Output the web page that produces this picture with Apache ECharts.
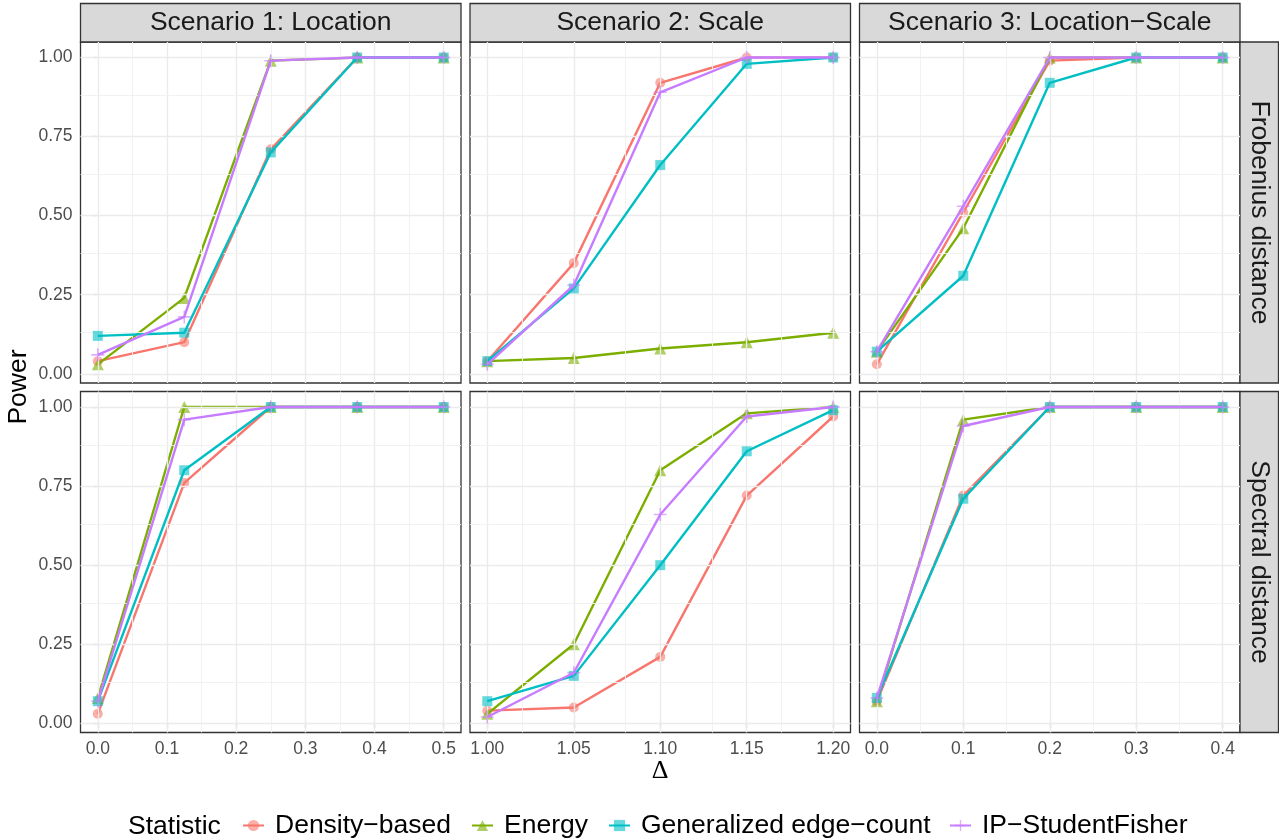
<!DOCTYPE html>
<html>
<head>
<meta charset="utf-8">
<script src="https://cdn.jsdelivr.net/npm/echarts@6/dist/echarts.min.js"></script>
<style>
  html, body { margin: 0; padding: 0; background: #fff; }
  #chart { width: 1279px; height: 839px; }
</style>
</head>
<body>
<div id="chart"></div>
<script>
// series names, facet labels
var statistics = ['Density\u2212based', 'Energy', 'Generalized edge\u2212count', 'IP\u2212StudentFisher'];
var scenarios = ['Scenario 1: Location', 'Scenario 2: Scale', 'Scenario 3: Location\u2212Scale'];
var distances = ['Frobenius distance', 'Spectral distance'];

// delta values per scenario
var deltaLocation = [0, 0.125, 0.25, 0.375, 0.5];
var deltaScale = [1.00, 1.05, 1.10, 1.15, 1.20];
var deltaLocScale = [0, 0.1, 0.2, 0.3, 0.4];

// power, one row per statistic (same order as statistics)
var frobeniusLocation = [
  [0.04, 0.10, 0.71, 1.00, 1.00],
  [0.03, 0.24, 0.99, 1.00, 1.00],
  [0.12, 0.13, 0.70, 1.00, 1.00],
  [0.06, 0.18, 0.99, 1.00, 1.00]
];
var frobeniusScale = [
  [0.04, 0.35, 0.92, 1.00, 1.00],
  [0.04, 0.05, 0.08, 0.10, 0.13],
  [0.04, 0.27, 0.66, 0.98, 1.00],
  [0.03, 0.28, 0.89, 1.00, 1.00]
];
var frobeniusLocScale = [
  [0.03, 0.51, 0.99, 1.00, 1.00],
  [0.07, 0.46, 1.00, 1.00, 1.00],
  [0.07, 0.31, 0.92, 1.00, 1.00],
  [0.07, 0.53, 1.00, 1.00, 1.00]
];
var spectralLocation = [
  [0.03, 0.76, 1.00, 1.00, 1.00],
  [0.08, 1.00, 1.00, 1.00, 1.00],
  [0.07, 0.80, 1.00, 1.00, 1.00],
  [0.07, 0.96, 1.00, 1.00, 1.00]
];
var spectralScale = [
  [0.04, 0.05, 0.21, 0.72, 0.97],
  [0.03, 0.25, 0.80, 0.98, 1.00],
  [0.07, 0.15, 0.50, 0.86, 0.99],
  [0.02, 0.16, 0.66, 0.97, 1.00]
];
var spectralLocScale = [
  [0.07, 0.72, 1.00, 1.00, 1.00],
  [0.07, 0.96, 1.00, 1.00, 1.00],
  [0.08, 0.71, 1.00, 1.00, 1.00],
  [0.08, 0.94, 1.00, 1.00, 1.00]
];

// tick labels
var yTicks = [0, 0.25, 0.5, 0.75, 1];
var yMinor = [0.125, 0.375, 0.625, 0.875];
var xTicksLocation = [0, 0.1, 0.2, 0.3, 0.4, 0.5];
var xTicksScale = [1.00, 1.05, 1.10, 1.15, 1.20];
var xTicksLocScale = [0, 0.1, 0.2, 0.3, 0.4];

var chart = echarts.init(document.getElementById('chart'));

var font = '"Liberation Sans", Arial, sans-serif';
var colors = ['#F8766D', '#7CAE00', '#00BFC4', '#C77CFF'];
var plusPath = 'path://M0,4.4 L10,4.4 L10,5.6 L0,5.6 Z M4.4,0 L5.6,0 L5.6,10 L4.4,10 Z';
var symbols = ['circle', 'triangle', 'rect', plusPath];
var symbolSizes = [10, 12, 10, 13];

var panelLeft = [80.5, 470, 859.5];
var panelWidth = 380.5;
var panelTop = [42, 391.5];
var panelHeight = 341;

var xDeltas = [deltaLocation, deltaScale, deltaLocScale];
var xTicks = [xTicksLocation, xTicksScale, xTicksLocScale];
var xRange = [[-0.025, 0.525], [0.99, 1.21], [-0.02, 0.42]];
var xDigits = [1, 2, 1];
var panelData = [
  [frobeniusLocation, frobeniusScale, frobeniusLocScale],
  [spectralLocation, spectralScale, spectralLocScale]
];

function midpoints(arr) {
  var out = [];
  for (var i = 0; i < arr.length - 1; i++) out.push((arr[i] + arr[i + 1]) / 2);
  return out;
}

var grids = [], xAxes = [], yAxes = [], series = [], graphics = [];

for (var r = 0; r < 2; r++) {
  for (var c = 0; c < 3; c++) {
    var idx = r * 3 + c;
    grids.push({
      left: panelLeft[c], top: panelTop[r], width: panelWidth, height: panelHeight,
      show: true, borderColor: '#333333', borderWidth: 1.3, backgroundColor: '#fff'
    });
    (function (digits) {
      xAxes.push({
        type: 'value', gridIndex: idx, min: xRange[c][0], max: xRange[c][1],
        axisLine: { show: false }, splitLine: { show: false },
        axisTick: { show: r === 1, length: 4.5, customValues: xTicks[c], lineStyle: { color: '#333', width: 1.1 } },
        axisLabel: {
          show: r === 1, customValues: xTicks[c], margin: 8, color: '#4D4D4D',
          fontSize: 17.5, fontFamily: font,
          formatter: function (v) { return v.toFixed(digits); }
        }
      });
    })(xDigits[c]);
    yAxes.push({
      type: 'value', gridIndex: idx, min: -0.029, max: 1.049,
      axisLine: { show: false }, splitLine: { show: false },
      axisTick: { show: c === 0, length: 4.5, customValues: yTicks, lineStyle: { color: '#333', width: 1.1 } },
      axisLabel: {
        show: c === 0, customValues: yTicks, margin: 8, color: '#4D4D4D',
        fontSize: 17.5, fontFamily: font,
        formatter: function (v) { return v.toFixed(2); }
      }
    });

    // panel grid lines
    var major = { color: '#EBEBEB', width: 1.4, type: 'solid' };
    var minor = { color: '#F0F0F0', width: 0.9, type: 'solid' };
    var lines = [];
    xTicks[c].forEach(function (v) { lines.push({ xAxis: v, lineStyle: major }); });
    midpoints(xTicks[c]).forEach(function (v) { lines.push({ xAxis: v, lineStyle: minor }); });
    yTicks.forEach(function (v) { lines.push({ yAxis: v, lineStyle: major }); });
    yMinor.forEach(function (v) { lines.push({ yAxis: v, lineStyle: minor }); });
    series.push({
      type: 'line', xAxisIndex: idx, yAxisIndex: idx, data: [], silent: true, z: 1,
      markLine: { silent: true, symbol: ['none', 'none'], label: { show: false }, animation: false, data: lines }
    });

    for (var s = 0; s < 4; s++) {
      var values = panelData[r][c][s];
      series.push({
        name: statistics[s], type: 'line', xAxisIndex: idx, yAxisIndex: idx, z: 3 + s,
        data: xDeltas[c].map(function (x, i) { return [x, values[i]]; }),
        symbol: symbols[s], symbolSize: symbolSizes[s], showSymbol: true,
        lineStyle: { color: colors[s], width: 2.4 },
        itemStyle: { color: colors[s], opacity: 0.6 },
        emphasis: { disabled: true }
      });
    }
  }
}

// facet strips
for (var c2 = 0; c2 < 3; c2++) {
  graphics.push({
    type: 'rect', shape: { x: panelLeft[c2], y: 3.5, width: panelWidth, height: 38.5 },
    style: { fill: '#D9D9D9', stroke: '#333333', lineWidth: 1.3 }
  });
  graphics.push({
    type: 'text', x: panelLeft[c2] + panelWidth / 2, y: 23,
    style: { text: scenarios[c2], align: 'center', verticalAlign: 'middle', font: '26.5px ' + font, fill: '#1A1A1A' }
  });
}
for (var r2 = 0; r2 < 2; r2++) {
  graphics.push({
    type: 'rect', shape: { x: 1240, y: panelTop[r2], width: 38.5, height: panelHeight },
    style: { fill: '#D9D9D9', stroke: '#333333', lineWidth: 1.3 }
  });
  graphics.push({
    type: 'text', x: 1259.5, y: panelTop[r2] + panelHeight / 2, rotation: -Math.PI / 2,
    style: { text: distances[r2], align: 'center', verticalAlign: 'middle', font: '26.5px ' + font, fill: '#1A1A1A' }
  });
}
// axis titles
graphics.push({
  type: 'text', x: 19, y: 387, rotation: Math.PI / 2,
  style: { text: 'Power', align: 'center', verticalAlign: 'middle', font: '26.5px ' + font, fill: '#000' }
});
graphics.push({
  type: 'text', x: 660, y: 771,
  style: { text: '\u0394', align: 'center', verticalAlign: 'middle', font: '26px "Liberation Serif", serif', fill: '#000' }
});
graphics.push({
  type: 'text', x: 128, y: 826.5,
  style: { text: 'Statistic', align: 'left', verticalAlign: 'middle', font: '26.5px ' + font, fill: '#000' }
});

// legends, one per key
var legendLeft = [237, 466, 603, 944];
var legends = statistics.map(function (name, i) {
  return {
    data: [name], left: legendLeft[i], top: 807, itemWidth: 21, itemHeight: 14,
    selectedMode: false,
    textStyle: { fontSize: 26.5, fontFamily: font, color: '#000', padding: [0, 0, 0, 6] }
  };
});

chart.setOption({
  animation: false,
  grid: grids,
  xAxis: xAxes,
  yAxis: yAxes,
  legend: legends,
  series: series,
  graphic: graphics
});
</script>
</body>
</html>
